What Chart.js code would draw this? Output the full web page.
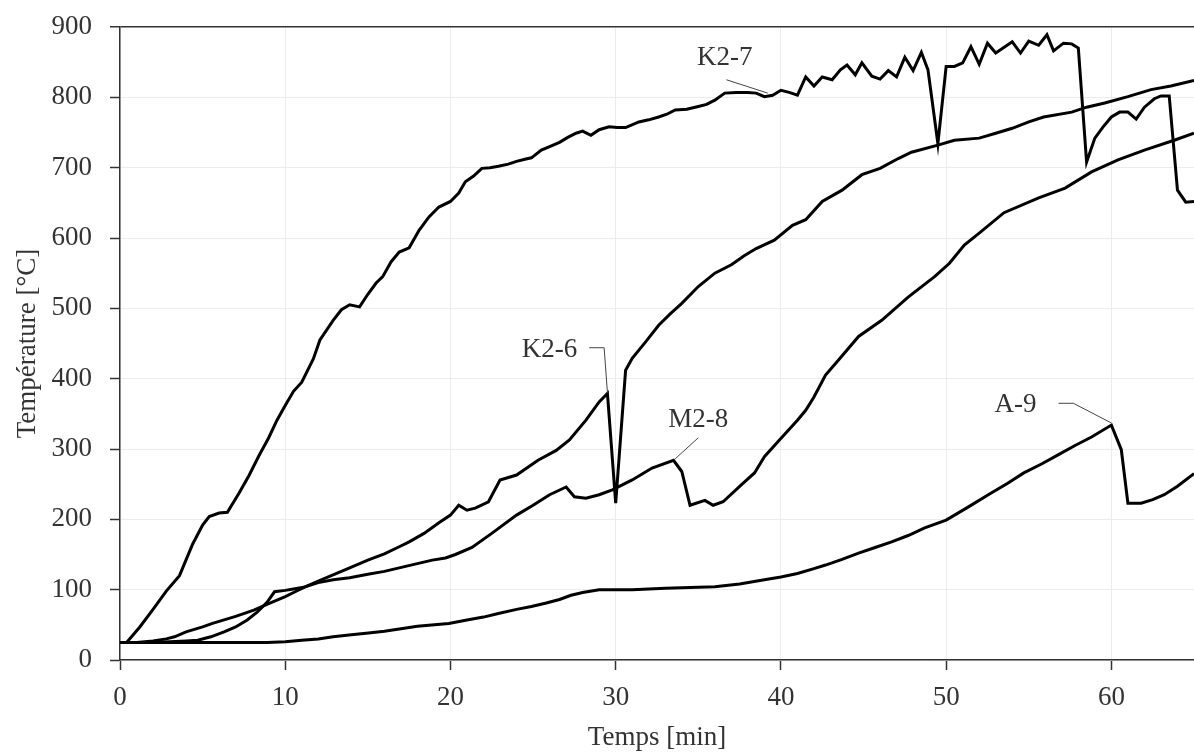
<!DOCTYPE html>
<html>
<head>
<meta charset="utf-8">
<script src="https://cdn.jsdelivr.net/npm/chart.js@4.4.1/dist/chart.umd.min.js"></script>
<style>
  html, body { margin: 0; padding: 0; background: #ffffff; }
  #wrap { width: 1194px; height: 754px; position: relative; }
</style>
</head>
<body>
<div id="wrap"><canvas id="c"></canvas></div>
<script>
// ---------- data ----------
const k27Time = [0,0.4,1.2,2,2.8,3.6,4.4,5,5.4,6,6.5,7.2,7.8,8.4,9,9.5,10,10.5,11,11.7,12.1,12.9,13.4,13.9,14.5,15,15.5,15.9,16.4,16.9,17.5,18.1,18.7,19.3,20,20.5,20.9,21.4,21.9,22.4,22.9,23.5,24,24.5,24.9,25.5,26,26.6,27.1,27.6,28,28.5,29,29.6,30.1,30.6,31.4,32,32.6,33.1,33.6,34.3,35,35.5,36,36.6,37.3,38,38.5,39,39.5,40,40.5,41,41.5,42,42.5,43.1,43.6,44,44.5,44.9,45.5,46,46.5,47,47.5,48,48.5,48.9,49.5,50,50.5,51,51.5,52,52.5,53,54,54.5,55,55.6,56.1,56.5,57.1,57.6,58,58.5,59,59.5,60,60.5,61,61.5,62,62.6,63,63.5,64,64.5,65];
const k27Temp = [25,25,47,72,98,120,165,192,204,209,210,237,262,290,316,341,362,382,395,428,455,483,498,505,502,520,536,545,566,580,586,611,630,644,652,664,680,688,699,700,702,705,709,712,714,725,730,736,743,749,752,746,754,758,757,757,765,768,772,776,782,783,787,790,796,806,807,807,806,801,803,810,807,803,829,816,829,825,839,846,832,849,830,826,838,829,857,838,864,839,734,844,844,849,872,847,877,863,879,863,880,874,889,866,877,876,870,708,742,758,772,779,779,769,786,798,802,802,668,651,652];

const k26Time = [0,1,2,2.8,3.3,4,5,5.6,6.3,7,8.1,9,10,10.6,11.2,12,13,13.9,15,16,16.9,17.5,18.4,19.3,20,20.5,21,21.5,22.3,23,24,25.3,26.4,27.2,28.2,29,29.5,30,30.6,31,31.8,32.6,33.3,34,35,36,37,37.8,38.5,39.6,40.7,41.5,42.5,43.7,44.9,46,47.1,47.9,49.5,50.5,52,53,54,55,55.9,57.6,58.5,59.6,61,62.4,63.6,65];
const k26Temp = [25,25,27,30,33,40,47,52,57,62,71,80,90,97,104,112,122,131,142,151,161,168,180,195,206,220,213,216,225,256,263,284,298,313,341,367,379,223,412,429,452,476,492,507,531,550,562,575,585,597,618,626,652,668,690,699,713,722,732,739,742,749,756,765,772,779,786,792,801,811,816,824];

const m28Time = [0,2,3,4,4.7,5.5,6.3,7,7.7,8.3,8.9,9.35,10,10.5,11.2,12,12.9,13.9,15,16,16.9,17.8,18.9,19.7,20.3,21.3,22.5,24,25,26,27,27.5,28.2,29,29.8,31,32.2,33.5,34,34.5,35.4,35.9,36.5,37.6,38.4,39,39.8,41,41.5,42,42.7,43.5,44.7,46.1,47.7,49.3,50.2,51.1,52,53.5,55.6,57.2,58.8,60.4,62,63.8,65];
const m28Temp = [25,25,26,27,28,33,40,47,57,68,82,97,99,101,104,110,114,117,122,126,131,136,142,145,150,160,180,206,220,235,246,232,230,235,242,256,273,284,268,220,227,220,225,249,266,289,310,341,355,374,405,427,460,483,516,545,564,590,607,636,657,671,694,711,725,739,749];

const a9Time = [0,5,7,8.9,10,11,12,12.9,14,14.9,16,16.9,18,19.9,21,22,22.9,24,24.9,25.8,26.6,27.3,28,29,30,31,32,33,34.5,36,37.5,39,40,41,42,42.7,43.7,44.7,45.7,46.7,47.7,48.7,50,51.3,52.7,53.7,54.7,55.8,56.8,57.8,58.8,60,60.6,61,61.8,62.5,63.2,64,65];
const a9Temp = [25,25,25,25,26,28,30,33,36,38,41,44,48,52,57,61,66,72,76,81,86,92,96,100,100,100,101,102,103,104,108,114,118,123,130,135,143,152,160,168,177,188,199,217,237,251,266,279,292,305,317,334,299,223,223,228,235,247,265];

const seriesNames = ['K2-7', 'K2-6', 'M2-8', 'A-9'];
const xTicks = [0, 10, 20, 30, 40, 50, 60];
const yTicks = [0, 100, 200, 300, 400, 500, 600, 700, 800, 900];

// callout labels (text position and leader lines in data units)
const callouts = [
  { text: 'K2-7', at: [36.6, 856], leader: [[36.7, 825], [39.2, 806]] },
  { text: 'K2-6', at: [26.0, 441], leader: [[28.4, 444], [29.3, 444], [29.5, 380]] },
  { text: 'M2-8', at: [35.0, 341], leader: [[35.0, 316], [33.6, 286]] },
  { text: 'A-9',  at: [54.2, 363], leader: [[56.8, 365], [57.7, 365], [60.0, 337]] }
];

// ---------- chart ----------
const FONT = "'Liberation Serif', 'DejaVu Serif', serif";
const TEXT = '#333333';
const AXIS = '#333333';
const GRID = '#ececec';

function pts(t, v) { return t.map((x, i) => ({ x: x, y: v[i] })); }

const allSeries = [pts(k27Time, k27Temp), pts(k26Time, k26Temp), pts(m28Time, m28Temp), pts(a9Time, a9Temp)];

const calloutPlugin = {
  id: 'callouts',
  afterDatasetsDraw(chart) {
    const ctx = chart.ctx, xs = chart.scales.x, ys = chart.scales.y;
    ctx.save();
    ctx.strokeStyle = '#444';
    ctx.lineWidth = 1;
    ctx.fillStyle = TEXT;
    ctx.font = "27px " + FONT;
    ctx.textAlign = 'center';
    ctx.textBaseline = 'middle';
    callouts.forEach(c => {
      ctx.beginPath();
      c.leader.forEach((p, i) => {
        const px = xs.getPixelForValue(p[0]), py = ys.getPixelForValue(p[1]);
        if (i === 0) ctx.moveTo(px, py); else ctx.lineTo(px, py);
      });
      ctx.stroke();
      ctx.fillText(c.text, xs.getPixelForValue(c.at[0]), ys.getPixelForValue(c.at[1]));
    });
    ctx.restore();
  }
};

new Chart(document.getElementById('c'), {
  type: 'line',
  data: {
    datasets: allSeries.map((d, i) => ({
      label: seriesNames[i],
      data: d,
      borderColor: '#000000',
      borderWidth: 3,
      pointRadius: 0,
      fill: false,
      tension: 0
    }))
  },
  options: {
    responsive: true,
    maintainAspectRatio: false,
    animation: false,
    layout: { padding: { top: 27, right: 0, bottom: 0, left: 0 } },
    plugins: { legend: { display: false }, tooltip: { enabled: false } },
    scales: {
      x: {
        type: 'linear',
        min: 0, max: 65,
        afterFit(scale) { scale.height = 94; scale.paddingLeft = 0; scale.paddingRight = 0; },
        afterBuildTicks(scale) { scale.ticks = xTicks.map(v => ({ value: v })); },
        ticks: {
          stepSize: 10, includeBounds: false, autoSkip: false, maxRotation: 0,
          color: TEXT, padding: 12,
          font: { family: FONT, size: 27 }
        },
        grid: { color: GRID, lineWidth: 1, tickColor: AXIS, tickLength: 10, tickWidth: 1.5 },
        border: { color: AXIS, width: 1.5 },
        title: {
          display: true, text: 'Temps [min]', color: TEXT,
          font: { family: FONT, size: 27, lineHeight: 1.2 },
          padding: { top: 0, bottom: 0 }
        }
      },
      y: {
        type: 'linear',
        min: 0, max: 900,
        afterFit(scale) { scale.width = 120; scale.paddingTop = 0; scale.paddingBottom = 0; },
        afterBuildTicks(scale) { scale.ticks = yTicks.map(v => ({ value: v })); },
        ticks: {
          stepSize: 100, color: TEXT, padding: 18,
          font: { family: FONT, size: 27 }
        },
        grid: {
          color: c => (c.tick && c.tick.value === 900) ? AXIS : GRID,
          lineWidth: c => (c.tick && c.tick.value === 900) ? 1.5 : 1,
          tickColor: AXIS, tickLength: 10, tickWidth: 1.5
        },
        border: { color: AXIS, width: 1.5 },
        title: {
          display: true, text: 'Température [°C]', color: TEXT,
          font: { family: FONT, size: 27, lineHeight: 1.2 },
          padding: { top: 12, bottom: 0 }
        }
      }
    }
  },
  plugins: [calloutPlugin]
});
</script>
</body>
</html>
